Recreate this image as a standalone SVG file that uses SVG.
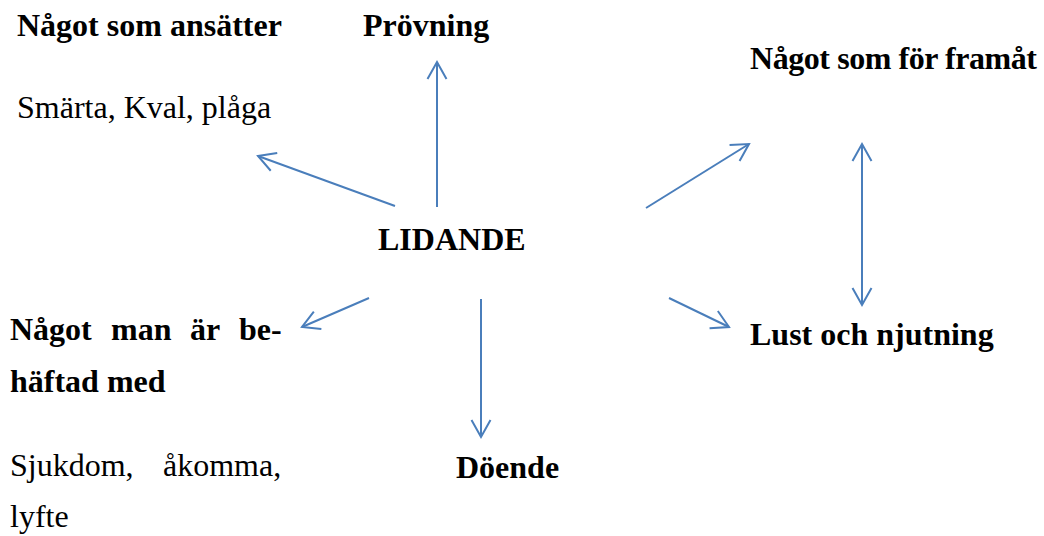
<svg xmlns="http://www.w3.org/2000/svg" width="1044" height="536" viewBox="0 0 1044 536">
<style>
.b{font-family:"Liberation Serif","Times New Roman",serif;font-weight:bold;font-size:32px;fill:#000}
.r{font-family:"Liberation Serif","Times New Roman",serif;font-size:32px;fill:#000}
.c{stroke:#4A7EBB;stroke-width:2;fill:none}
</style>
<defs>
<marker id="ah" markerUnits="userSpaceOnUse" markerWidth="24" markerHeight="24" viewBox="-20 -12 24 24" refX="0" refY="0" orient="auto-start-reverse">
<path d="M-17,-9.5 L0,0 L-17,9.5" stroke="#4A7EBB" stroke-width="2" fill="none"/>
</marker>
</defs>
<rect width="1044" height="536" fill="#fff"/>
<g id="connectors">
<line class="c" x1="395" y1="206" x2="258" y2="156" marker-end="url(#ah)"/>
<line class="c" x1="437" y1="207" x2="437" y2="62" marker-end="url(#ah)"/>
<line class="c" x1="646" y1="208" x2="749" y2="144" marker-end="url(#ah)"/>
<line class="c" x1="862" y1="144" x2="862" y2="305" marker-start="url(#ah)" marker-end="url(#ah)"/>
<line class="c" x1="369" y1="298" x2="302" y2="327" marker-end="url(#ah)"/>
<line class="c" x1="481" y1="299" x2="481" y2="437" marker-end="url(#ah)"/>
<line class="c" x1="669" y1="298" x2="729" y2="327" marker-end="url(#ah)"/>
</g>
<g id="lidande"><text class="b" x="378" y="250">LIDANDE</text></g>
<g id="ansatter">
<text class="b" x="17" y="36">Något som ansätter</text>
<text class="r" x="17" y="118">Smärta, Kval, plåga</text>
</g>
<g id="provning"><text class="b" x="363" y="36">Prövning</text></g>
<g id="framat"><text class="b" x="750" y="69" textLength="287" lengthAdjust="spacing">Något som för framåt</text></g>
<g id="lust"><text class="b" x="750" y="345">Lust och njutning</text></g>
<g id="doende"><text class="b" x="456" y="478">Döende</text></g>
<g id="behaftad">
<text class="b" y="340"><tspan x="10">Något</tspan><tspan x="111">man</tspan><tspan x="190">är</tspan><tspan x="239">be-</tspan></text>
<text class="b" x="10" y="392">häftad med</text>
<text class="r" y="476"><tspan x="10">Sjukdom,</tspan><tspan x="163">åkomma,</tspan></text>
<text class="r" x="10" y="527">lyfte</text>
</g>
</svg>
